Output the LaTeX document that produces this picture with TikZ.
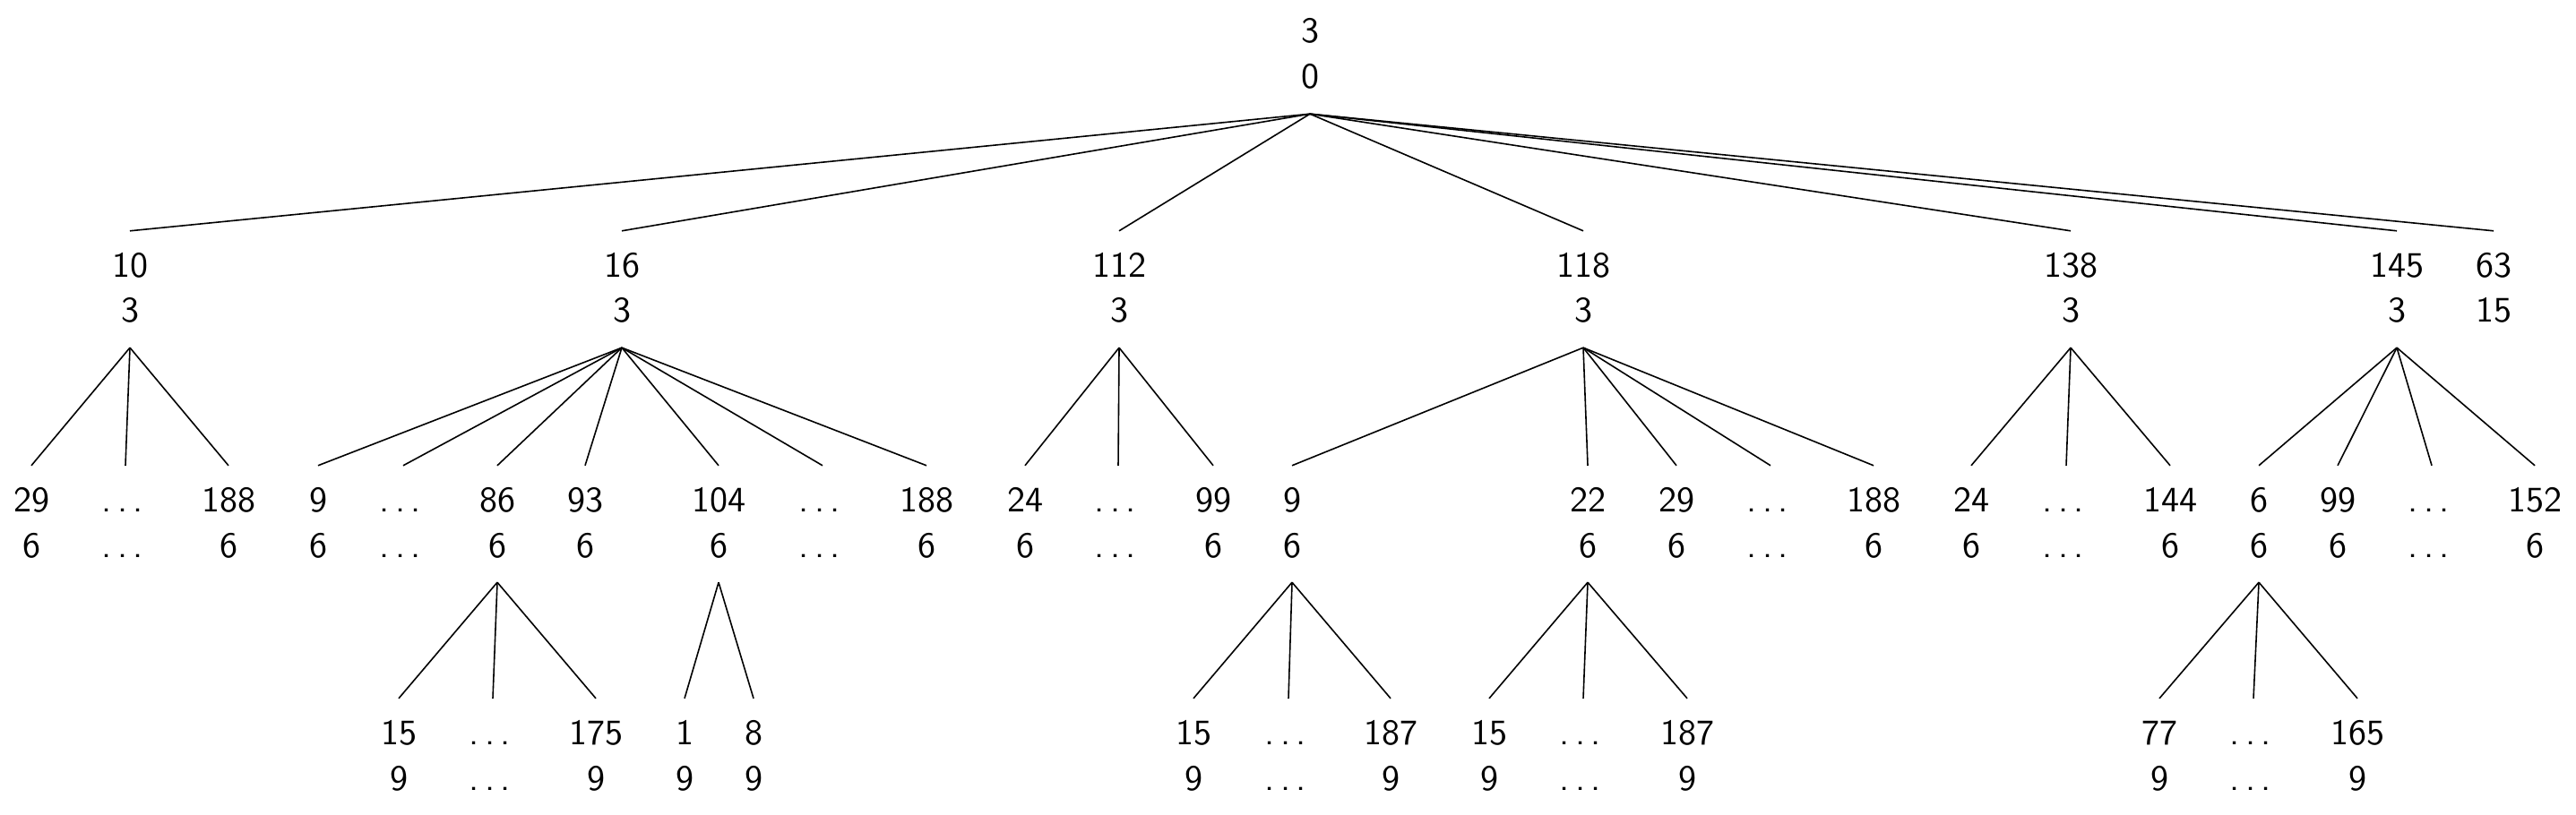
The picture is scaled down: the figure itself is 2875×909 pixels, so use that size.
\documentclass[tikz,border=0pt]{standalone}
\renewcommand{\arraystretch}{1.0625}
\begin{document}
\begin{tikzpicture}[x=0.25pt,y=-0.25pt,
  tn/.style={anchor=base,inner xsep=0pt,inner ysep=0pt,text height=12.6pt,text depth=19.6pt,font=\sffamily\fontsize{10}{12}\selectfont},
  edge/.style={line width=0.4pt}]
\useasboundingbox (0,0) rectangle (2875,909);
\newcommand{\tl}[2]{\begin{tabular}[t]{@{}c@{}}#1\\#2\end{tabular}}
\newcommand{\dd}{.\kern\fontdimen3\font.\kern\fontdimen3\font.\kern\fontdimen3\font}
% root
\node[tn] (r) at (1462,48) {\tl{3}{0}};
% level 1
\node[tn] (a1) at (145,309) {\tl{10}{3}};
\node[tn] (a2) at (694,309) {\tl{16}{3}};
\node[tn] (a3) at (1249,309) {\tl{112}{3}};
\node[tn] (a4) at (1767,309) {\tl{118}{3}};
\node[tn] (a5) at (2311,309) {\tl{138}{3}};
\node[tn] (a6) at (2675,309) {\tl{145}{3}};
\node[tn] (a7) at (2783,309) {\tl{63}{15}};
% level 2
\node[tn] (b11) at (35,571) {\tl{29}{6}};
\node[tn] (b12) at (140,571) {\tl{\dd}{\dd}};
\node[tn] (b13) at (255,571) {\tl{188}{6}};
\node[tn] (b21) at (355,571) {\tl{9}{6}};
\node[tn] (b22) at (450,571) {\tl{\dd}{\dd}};
\node[tn] (b23) at (555,571) {\tl{86}{6}};
\node[tn] (b24) at (653,571) {\tl{93}{6}};
\node[tn] (b25) at (802,571) {\tl{104}{6}};
\node[tn] (b26) at (918,571) {\tl{\dd}{\dd}};
\node[tn] (b27) at (1034,571) {\tl{188}{6}};
\node[tn] (b31) at (1144,571) {\tl{24}{6}};
\node[tn] (b32) at (1248,571) {\tl{\dd}{\dd}};
\node[tn] (b33) at (1354,571) {\tl{99}{6}};
\node[tn] (b41) at (1442,571) {\tl{9}{6}};
\node[tn] (b42) at (1772,571) {\tl{22}{6}};
\node[tn] (b43) at (1871,571) {\tl{29}{6}};
\node[tn] (b44) at (1976,571) {\tl{\dd}{\dd}};
\node[tn] (b45) at (2091,571) {\tl{188}{6}};
\node[tn] (b51) at (2200,571) {\tl{24}{6}};
\node[tn] (b52) at (2306,571) {\tl{\dd}{\dd}};
\node[tn] (b53) at (2422,571) {\tl{144}{6}};
\node[tn] (b61) at (2521,571) {\tl{6}{6}};
\node[tn] (b62) at (2609,571) {\tl{99}{6}};
\node[tn] (b63) at (2714,571) {\tl{\dd}{\dd}};
\node[tn] (b64) at (2829,571) {\tl{152}{6}};
% level 3
\node[tn] (c1) at (445,831) {\tl{15}{9}};
\node[tn] (c2) at (550,831) {\tl{\dd}{\dd}};
\node[tn] (c3) at (665,831) {\tl{175}{9}};
\node[tn] (c4) at (764,831) {\tl{1}{9}};
\node[tn] (c5) at (841,831) {\tl{8}{9}};
\node[tn] (c6) at (1332,831) {\tl{15}{9}};
\node[tn] (c7) at (1438,831) {\tl{\dd}{\dd}};
\node[tn] (c8) at (1552,831) {\tl{187}{9}};
\node[tn] (c9) at (1662,831) {\tl{15}{9}};
\node[tn] (c10) at (1767,831) {\tl{\dd}{\dd}};
\node[tn] (c11) at (1883,831) {\tl{187}{9}};
\node[tn] (c12) at (2410,831) {\tl{77}{9}};
\node[tn] (c13) at (2515,831) {\tl{\dd}{\dd}};
\node[tn] (c14) at (2631,831) {\tl{165}{9}};
% edges
\foreach \c in {a1,a2,a3,a4,a5,a6,a7} \draw[edge] (r.south) -- (\c.north);
\foreach \c in {b11,b12,b13} \draw[edge] (a1.south) -- (\c.north);
\foreach \c in {b21,b22,b23,b24,b25,b26,b27} \draw[edge] (a2.south) -- (\c.north);
\foreach \c in {b31,b32,b33} \draw[edge] (a3.south) -- (\c.north);
\foreach \c in {b41,b42,b43,b44,b45} \draw[edge] (a4.south) -- (\c.north);
\foreach \c in {b51,b52,b53} \draw[edge] (a5.south) -- (\c.north);
\foreach \c in {b61,b62,b63,b64} \draw[edge] (a6.south) -- (\c.north);
\foreach \c in {c1,c2,c3} \draw[edge] (b23.south) -- (\c.north);
\foreach \c in {c4,c5} \draw[edge] (b25.south) -- (\c.north);
\foreach \c in {c6,c7,c8} \draw[edge] (b41.south) -- (\c.north);
\foreach \c in {c9,c10,c11} \draw[edge] (b42.south) -- (\c.north);
\foreach \c in {c12,c13,c14} \draw[edge] (b61.south) -- (\c.north);
\end{tikzpicture}
\end{document}
